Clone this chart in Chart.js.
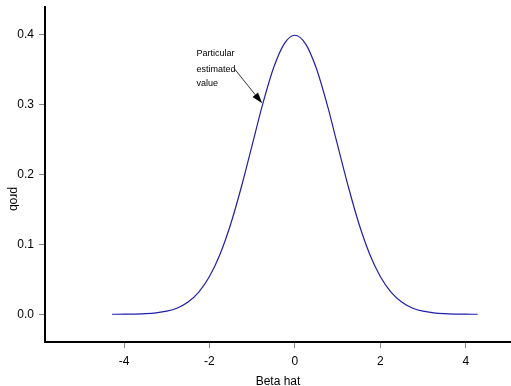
<!DOCTYPE html>
<html><head><meta charset="utf-8">
<script src="https://cdn.jsdelivr.net/npm/chart.js@4/dist/chart.umd.min.js"></script>
<style>html,body{margin:0;padding:0;background:#fff;overflow:hidden;}</style>
</head><body>
<canvas id="c" width="511" height="386"></canvas>
<script>
const betaHat = [-4.28,-4,-3.75,-3.5,-3.25,-3,-2.75,-2.5,-2.25,-2,-1.75,-1.5,-1.25,-1,-0.75,-0.5,-0.25,0,0.25,0.5,0.75,1,1.25,1.5,1.75,2,2.25,2.5,2.75,3,3.25,3.5,3.75,4,4.28];
const prob = [0.00004,0.00013,0.00035,0.00087,0.00203,0.00443,0.00909,0.01753,0.03174,0.05399,0.08628,0.12952,0.18265,0.24197,0.30114,0.35207,0.38667,0.39894,0.38667,0.35207,0.30114,0.24197,0.18265,0.12952,0.08628,0.05399,0.03174,0.01753,0.00909,0.00443,0.00203,0.00087,0.00035,0.00013,0.00004];
const xTicks = [-4,-2,0,2,4];
const yTicks = [0,0.1,0.2,0.3,0.4];
const xTitle = 'Beta hat';
const yTitle = 'prob';
const noteLines = ['Particular','estimated','value'];
const noteX = -2.304;
const noteY = [0.3722,0.3500,0.3300];
const arrowFrom = [-1.406,0.3503];
const arrowTo = [-0.766,0.3016];

const FONT = "'Liberation Sans', Arial, sans-serif";

const decor = {
  id:'decor',
  afterDraw(chart){
    const ctx = chart.ctx, xs = chart.scales.x, ys = chart.scales.y;
    ctx.save();
    ctx.fillStyle = '#000';
    ctx.font = "12px " + FONT;
    ctx.translate(13,199);
    ctx.rotate(Math.PI/2);
    ctx.textAlign='center'; ctx.textBaseline='middle';
    ctx.fillText(yTitle,0,0);
    ctx.restore();

    ctx.save();
    ctx.fillStyle='#000';
    ctx.font = "9px " + FONT;
    ctx.textAlign='left'; ctx.textBaseline='middle';
    noteLines.forEach((t,i)=>ctx.fillText(t, xs.getPixelForValue(noteX), ys.getPixelForValue(noteY[i])));
    const x1=xs.getPixelForValue(arrowFrom[0]), y1=ys.getPixelForValue(arrowFrom[1]);
    const x2=xs.getPixelForValue(arrowTo[0]), y2=ys.getPixelForValue(arrowTo[1]);
    const ang=Math.atan2(y2-y1,x2-x1), hl=11, hw=3.5;
    const bx=x2-hl*Math.cos(ang), by=y2-hl*Math.sin(ang);
    ctx.strokeStyle='#000'; ctx.lineWidth=0.8;
    ctx.beginPath(); ctx.moveTo(x1,y1); ctx.lineTo(bx,by); ctx.stroke();
    ctx.beginPath();
    ctx.moveTo(x2,y2);
    ctx.lineTo(bx+hw*Math.sin(ang), by-hw*Math.cos(ang));
    ctx.lineTo(bx-hw*Math.sin(ang), by+hw*Math.cos(ang));
    ctx.closePath(); ctx.fill();
    ctx.restore();
  }
};

new Chart(document.getElementById('c'), {
  type:'line',
  data:{ datasets:[{
    data: betaHat.map((x,i)=>({x:x,y:prob[i]})),
    borderColor:'#1f1fa8', borderWidth:1.2, pointRadius:0,
    cubicInterpolationMode:'monotone', fill:false
  }]},
  options:{
    responsive:false, animation:false, devicePixelRatio:1,
    layout:{padding:{top:7,left:0,right:0,bottom:0}},
    plugins:{legend:{display:false}, tooltip:{enabled:false}},
    scales:{
      x:{
        type:'linear', min:-5.85, max:5.06,
        afterBuildTicks:s=>{ s.ticks = xTicks.map(v=>({value:v})); },
        afterFit:s=>{ s.height = 44; s.paddingLeft = 0; s.paddingRight = 0; },
        ticks:{ color:'#000', font:{family:FONT,size:12}, padding:6, maxRotation:0, autoSkip:false,
          callback:v=>String(v) },
        grid:{ drawOnChartArea:false, drawTicks:true, tickLength:6, color:'#888' },
        border:{ display:true, color:'#000', width:2 },
        title:{ display:true, text:xTitle, color:'#000', font:{family:FONT,size:12,lineHeight:0.8}, padding:{top:0,bottom:0} }
      },
      y:{
        type:'linear', min:-0.0396, max:0.4393,
        afterBuildTicks:s=>{ s.ticks = yTicks.map(v=>({value:v})); },
        afterFit:s=>{ s.width = 45; s.paddingTop = 0; s.paddingBottom = 0; },
        ticks:{ color:'#000', font:{family:FONT,size:12}, padding:5, autoSkip:false,
          callback:v=>v.toFixed(1) },
        grid:{ drawOnChartArea:false, drawTicks:true, tickLength:6, color:'#888' },
        border:{ display:true, color:'#000', width:2 }
      }
    }
  },
  plugins:[decor]
});
</script>
</body></html>
